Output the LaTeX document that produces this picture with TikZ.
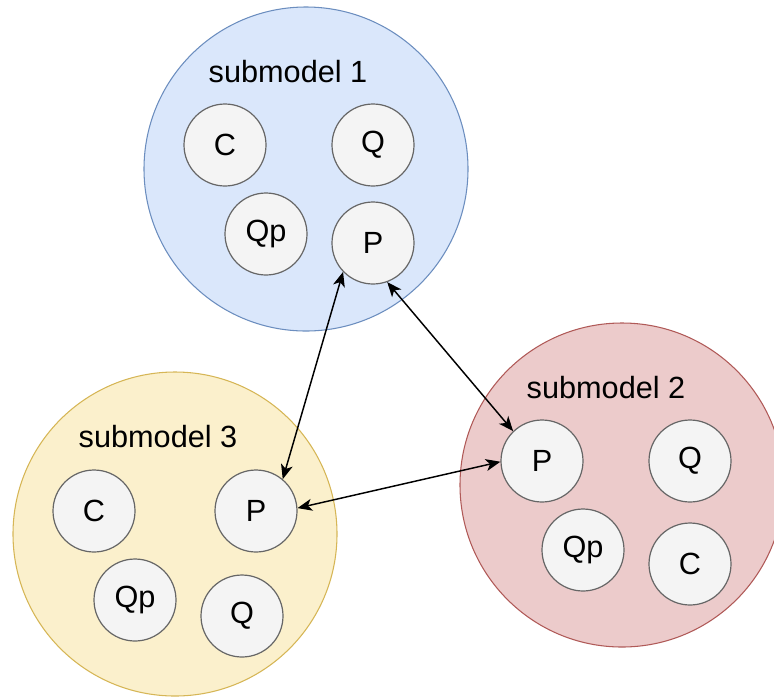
\documentclass[tikz,border=0pt]{standalone}
\usepackage{fontspec}
\setmainfont{Liberation Sans}
\usetikzlibrary{arrows.meta}
\definecolor{blueF}{HTML}{DAE7FB}\definecolor{blueS}{HTML}{6C8EBF}
\definecolor{redF}{HTML}{ECCBCB}\definecolor{redS}{HTML}{B05A58}
\definecolor{yelF}{HTML}{FBF0CC}\definecolor{yelS}{HTML}{D6B656}
\definecolor{varF}{HTML}{F4F4F4}\definecolor{varS}{HTML}{666666}
\tikzset{
  bigcirc/.style={circle, minimum size=243pt, inner sep=0pt, line width=0.8pt},
  varnode/.style={circle, minimum size=61.5pt, inner sep=0pt, draw=varS, fill=varF, line width=0.9pt, font=\fontsize{23}{26}\selectfont},
  lbl/.style={font=\fontsize{23}{26}\selectfont, inner sep=0pt},
  link/.style={line width=1.1pt, {Stealth[length=11pt,width=9pt,inset=3pt]}-{Stealth[length=11pt,width=9pt,inset=3pt]}}
}
\begin{document}
\begin{tikzpicture}[x=0.75pt,y=-0.75pt]
\useasboundingbox (0,0) rectangle (774,697);
\clip (0,0) rectangle (774,697);
% big circles
\node[bigcirc, draw=blueS, fill=blueF] (s1) at (306,169) {};
\node[bigcirc, draw=redS, fill=redF] (s2) at (622,485) {};
\node[bigcirc, draw=yelS, fill=yelF] (s3) at (175,534) {};
% labels
\node[lbl] (l1) at (288,72) {submodel 1};
\node[lbl] (l2) at (606,388) {submodel 2};
\node[lbl] (l3) at (158,437) {submodel 3};
% submodel 1
\node[varnode] (c1) at (225,145) {C};
\node[varnode] (q1) at (373,145) {Q};
\node[varnode] (qp1) at (266,234) {Qp};
\node[varnode] (p1) at (373,243) {P};
% submodel 2
\node[varnode] (p2) at (542,461) {P};
\node[varnode] (q2) at (690,461) {Q};
\node[varnode] (qp2) at (583,550) {Qp};
\node[varnode] (c2) at (690,564) {C};
% submodel 3
\node[varnode] (c3) at (94,511) {C};
\node[varnode] (p3) at (256,511) {P};
\node[varnode] (qp3) at (135,600) {Qp};
\node[varnode] (q3) at (242,616) {Q};
% links
\draw[link] (p1.224) -- (p3.50);
\draw[link] (p1.290) -- (p2.134);
\draw[link] (p3.4) -- (p2.181);
\end{tikzpicture}
\end{document}
